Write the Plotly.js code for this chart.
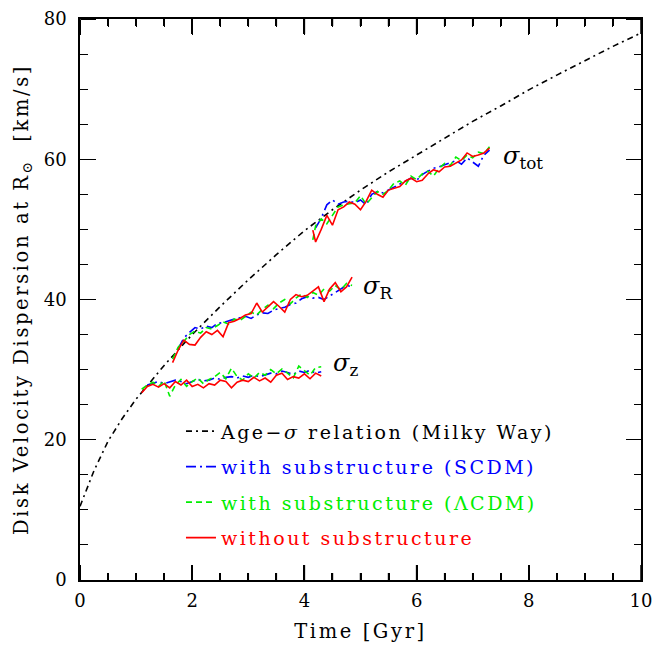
<!DOCTYPE html>
<html>
<head>
<meta charset="utf-8">
<script src="https://cdn.plot.ly/plotly-3.0.1.min.js"></script>
<style>
body{margin:0;background:#fff}
#plot{width:657px;height:646px}
text.legendtext{letter-spacing:2.5px}
text.xtitle, text.ytitle{letter-spacing:2.6px}
</style>
</head>
<body>
<div id="plot"></div>
<script>
// Age-sigma relation (Milky Way)
const ageT = [0,0.25,0.5,0.75,1,1.5,2,2.5,3,3.5,4,4.5,5,5.5,6,6.5,7,7.5,8,8.5,9,9.5,10];
const ageS = [10.5,15.6,19.8,23.0,25.8,30.6,35.0,39.0,42.8,46.4,49.8,52.8,55.6,58.2,60.6,63.0,65.4,67.6,69.9,72.0,74.1,76.1,78.0];

// sigma_tot
const tTot  = [4.15,4.2,4.3,4.4,4.5,4.6,4.7,4.8,4.9,5.0,5.1,5.2,5.3,5.4,5.5,5.6,5.7,5.8,5.9,6.0,6.1,6.2,6.3,6.4,6.5,6.6,6.7,6.8,6.9,7.0,7.1,7.2,7.3];
const tTotB = [4.2,4.3,4.4,4.5,4.6,4.7,4.8,4.9,5.0,5.1,5.2,5.3,5.4,5.5,5.6,5.7,5.8,5.9,6.0,6.1,6.2,6.3,6.4,6.5,6.6,6.7,6.8,6.9,7.0,7.1,7.2,7.3];
const totRed   = [49.9,48.2,50.0,52.0,50.6,52.8,53.2,53.9,53.6,52.8,54.0,55.6,55.0,54.6,55.6,55.8,56.1,56.9,57.3,56.8,57.0,57.9,58.5,58.2,58.9,59.0,59.5,59.9,60.9,60.4,60.6,60.9,61.6];
const totGreen = [48.5,50.5,51.5,50.8,52.0,53.2,53.5,53.6,53.8,54.8,53.6,54.5,55.4,55.0,55.6,56.6,56.9,56.3,57.6,57.1,57.9,58.3,57.6,58.7,59.4,59.1,60.3,59.8,60.6,60.2,61.0,60.8,61.8];
const totBlue  = [50.2,51.6,53.5,54.2,53.6,53.9,54.0,53.8,54.2,53.5,55.0,55.4,55.2,55.6,56.0,56.4,56.9,57.3,57.0,57.8,58.3,58.7,58.9,59.2,59.5,59.8,59.3,60.2,59.6,59.0,60.6,61.3];

// sigma_R
const tR  = [1.65,1.75,1.85,1.95,2.05,2.15,2.25,2.35,2.45,2.55,2.65,2.75,2.85,2.95,3.05,3.15,3.25,3.35,3.45,3.55,3.65,3.75,3.85,3.95,4.05,4.15,4.25,4.35,4.45,4.55,4.65,4.75,4.85];
const tRB = [1.75,1.85,1.95,2.05,2.15,2.25,2.35,2.45,2.55,2.65,2.75,2.85,2.95,3.05,3.15,3.25,3.35,3.45,3.55,3.65,3.75,3.85,3.95,4.05,4.15,4.25,4.35,4.45,4.55,4.65,4.75,4.85];
const rRed   = [31.0,32.8,34.2,33.6,33.5,34.6,35.4,35.0,35.6,34.7,36.7,36.9,37.3,37.8,38.0,39.5,38.2,38.9,39.7,39.0,38.2,40.0,40.7,40.4,40.6,41.2,41.8,39.7,41.5,42.4,41.1,41.8,43.2];
const rGreen = [31.5,33.2,34.0,35.0,35.5,35.2,36.0,35.8,36.3,36.8,36.5,37.2,37.0,37.6,38.2,37.8,38.6,39.2,38.7,39.5,40.0,39.4,40.2,40.8,40.3,41.0,40.6,41.5,41.2,42.0,41.4,42.3,42.0];
const rBlue  = [33.0,34.5,35.3,36.0,35.8,36.2,36.0,36.6,36.7,37.0,37.2,37.4,37.6,37.3,37.8,38.1,38.0,38.5,38.7,38.9,39.3,39.5,40.1,40.4,40.2,40.3,40.0,40.5,41.0,41.5,42.0,41.8];

// sigma_z
const tZ  = [1.1,1.2,1.3,1.4,1.5,1.6,1.7,1.8,1.9,2.0,2.1,2.2,2.3,2.4,2.5,2.6,2.7,2.8,2.9,3.0,3.1,3.2,3.3,3.4,3.5,3.6,3.7,3.8,3.9,4.0,4.1,4.2,4.3];
const tZB = [1.2,1.3,1.4,1.5,1.6,1.7,1.8,1.9,2.0,2.1,2.2,2.3,2.4,2.5,2.6,2.7,2.8,2.9,3.0,3.1,3.2,3.3,3.4,3.5,3.6,3.7,3.8,3.9,4.0,4.1,4.2,4.3];
const zRed   = [26.7,27.6,27.9,27.5,28.0,27.4,28.3,27.8,28.5,27.6,27.9,27.4,28.0,27.8,28.5,28.3,27.4,28.2,28.5,28.3,28.9,28.4,28.8,28.2,29.2,29.5,28.6,29.0,28.8,29.4,28.7,29.5,29.1];
const zGreen = [27.2,27.8,28.2,27.6,28.4,26.2,27.8,28.6,27.6,28.3,28.8,28.0,28.6,29.0,29.6,28.7,30.2,29.0,28.5,29.4,28.8,29.6,29.2,30.0,29.4,30.1,29.5,28.8,30.5,29.8,29.2,30.3,30.4];
const zBlue  = [27.8,28.0,28.3,28.0,28.2,28.5,28.3,28.0,28.3,28.6,28.4,28.5,28.8,28.6,28.9,29.0,28.8,29.1,28.9,29.2,29.0,29.3,29.5,29.4,29.8,29.6,29.3,29.8,29.6,29.9,29.5,29.7];

// x-axis tick values (major labelled, minor unlabelled)
const xMajorTicks = [0,2,4,6,8,10];
const xMinorTicks = [0.5,1,1.5,2.5,3,3.5,4.5,5,5.5,6.5,7,7.5,8.5,9,9.5];

const legendNames = {
  age: 'Age−<i>σ</i> relation (Milky Way)',
  scdm: '<span style="color:#0000ff">with substructure (SCDM)</span>',
  lcdm: '<span style="color:#00ee00">with substructure (ΛCDM)</span>',
  none: '<span style="color:#ff0000">without substructure</span>'
};

const blue = '#0000ff', green = '#00ee00', red = '#ff0000';
const lw = 1.6;
function tr(x, y, color, dash, group, name, show) {
  return {x: x, y: y, type: 'scatter', mode: 'lines', line: {color: color, width: lw, dash: dash},
          legendgroup: group, name: name, showlegend: show, hoverinfo: 'skip'};
}
const data = [
  tr(ageT, ageS, '#000000', '6px,4px,2px,4px', 'age', legendNames.age, true),
  tr(tTotB, totBlue, blue, '10px,4px,2px,4px', 'scdm', legendNames.scdm, true),
  tr(tRB, rBlue, blue, '10px,4px,2px,4px', 'scdm', legendNames.scdm, false),
  tr(tZB, zBlue, blue, '10px,4px,2px,4px', 'scdm', legendNames.scdm, false),
  tr(tTot, totGreen, green, '6px,4px', 'lcdm', legendNames.lcdm, true),
  tr(tR, rGreen, green, '6px,4px', 'lcdm', legendNames.lcdm, false),
  tr(tZ, zGreen, green, '6px,4px', 'lcdm', legendNames.lcdm, false),
  tr(tTot, totRed, red, 'solid', 'none', legendNames.none, true),
  tr(tR, rRed, red, 'solid', 'none', legendNames.none, false),
  tr(tZ, zRed, red, 'solid', 'none', legendNames.none, false),
  // empty carriers so the tick-only axes get drawn
  {x: [], y: [], type: 'scatter', mode: 'lines', xaxis: 'x2', yaxis: 'y2', showlegend: false, hoverinfo: 'skip'},
  {x: [], y: [], type: 'scatter', mode: 'lines', xaxis: 'x3', yaxis: 'y3', showlegend: false, hoverinfo: 'skip'}
];

const serif = 'DejaVu Serif, serif';
const xRange = [0, 10], yRange = [0, 80];
// Tick-only axes placed on the opposite edge so that their outward ticks point into the plot
function tickAxis(overlay, side, pos, range, dtick, mdtick) {
  return {overlaying: overlay, side: side, anchor: 'free', position: pos, range: range,
          showgrid: false, zeroline: false, showline: false, showticklabels: false,
          ticks: 'outside', ticklen: 15, tickwidth: 1.2, tickcolor: 'black', dtick: dtick, tick0: 0,
          minor: {dtick: mdtick, ticks: 'outside', ticklen: 7, tickwidth: 1.2, tickcolor: 'black'}};
}
// inward x ticks on the bottom and top frame edges, placed at the axis tick values
const plotH = 646 - 19 - 66;
function xTickShapes(vals, len) {
  const f = len / plotH;
  const out = [];
  vals.forEach(function (v) {
    out.push({type: 'line', xref: 'x', yref: 'paper', x0: v, x1: v, y0: 0, y1: f,
              line: {color: 'black', width: 1.5}, layer: 'above'});
    out.push({type: 'line', xref: 'x', yref: 'paper', x0: v, x1: v, y0: 1, y1: 1 - f,
              line: {color: 'black', width: 1.5}, layer: 'above'});
  });
  return out;
}
const layout = {
  width: 657, height: 646,
  margin: {l: 80, r: 16, t: 19, b: 66},
  paper_bgcolor: '#fff', plot_bgcolor: 'rgba(0,0,0,0)',
  showlegend: true,
  legend: {x: 0.18, y: 0.299, xanchor: 'left', yanchor: 'top', bgcolor: 'rgba(0,0,0,0)',
           font: {family: serif, size: 19, color: '#000'}, tracegroupgap: 7.8, traceorder: 'grouped'},
  xaxis: {
    showgrid: false, zeroline: false, showline: true, linecolor: 'black', linewidth: 1.5,
    mirror: 'allticks', ticks: 'inside', ticklen: 15, tickwidth: 1.5, tickcolor: 'black', ticklabelstandoff: 4,
    minor: {dtick: 0.5, ticks: 'inside', ticklen: 7, tickwidth: 1.5, tickcolor: 'black'},
    tickfont: {family: serif, size: 18, color: '#000'},
    range: xRange, dtick: 2, tick0: 0,
    title: {text: 'Time [Gyr]', font: {family: serif, size: 19.5, color: '#000'}, standoff: 14}
  },
  yaxis: {
    showgrid: false, zeroline: false, showline: true, linecolor: 'black', linewidth: 1.5,
    mirror: 'allticks', ticks: 'inside', ticklen: 15, tickwidth: 1.2, tickcolor: 'black', ticklabelstandoff: 8,
    minor: {dtick: 5, ticks: 'inside', ticklen: 7, tickwidth: 1.2, tickcolor: 'black'},
    tickfont: {family: serif, size: 18, color: '#000'},
    range: yRange, dtick: 20, tick0: 0,
    title: {text: 'Disk Velocity Dispersion at R<sub>⊙</sub>  [km/s]', font: {family: serif, size: 19.5, color: '#000'}, standoff: 10}
  },
  xaxis2: tickAxis('x', 'top', 0, xRange, 2, 0.5),
  xaxis3: tickAxis('x', 'bottom', 1, xRange, 2, 0.5),
  yaxis2: tickAxis('y', 'right', 0, yRange, 20, 5),
  yaxis3: tickAxis('y', 'left', 1, yRange, 20, 5),
  shapes: xTickShapes(xMajorTicks, 15).concat(xTickShapes(xMinorTicks, 7)),
  annotations: [
    {x: 7.5, y: 60.3, xref: 'x', yref: 'y', xanchor: 'left', showarrow: false,
     text: '<i>σ</i><sub>tot</sub>', font: {family: serif, size: 24, color: '#000'}},
    {x: 5.0, y: 41.7, xref: 'x', yref: 'y', xanchor: 'left', showarrow: false,
     text: '<i>σ</i><sub>R</sub>', font: {family: serif, size: 24, color: '#000'}},
    {x: 4.47, y: 30.8, xref: 'x', yref: 'y', xanchor: 'left', showarrow: false,
     text: '<i>σ</i><sub>z</sub>', font: {family: serif, size: 24, color: '#000'}}
  ]
};
Plotly.newPlot('plot', data, layout, {displayModeBar: false});
</script>
</body>
</html>
